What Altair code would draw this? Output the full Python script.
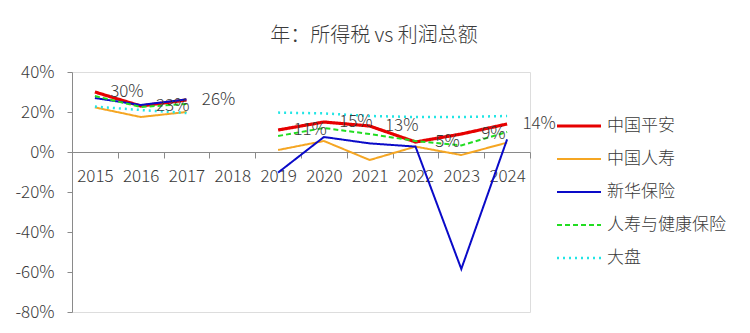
import altair as alt
import pandas as pd

years = ["2015", "2016", "2017", "2018", "2019", "2020", "2021", "2022", "2023", "2024"]
series = ["中国平安", "中国人寿", "新华保险", "人寿与健康保险", "大盘"]
pingan = [30, 23, 26, None, 11, 15, 13, 5, 9, 14]
chinalife = [22.3, 17.5, 20, None, 1, 5.5, -4, 2.7, -1.5, 4.7]
xinhua = [27, 23.5, 26.3, None, -10.3, 7.5, 4.3, 2.7, -58.5, 6.3]
lifehealth = [28, 22.5, 24, None, 8, 12, 9, 5.5, 3.3, 10]
market = [22.7, 21, 19.5, None, 19.7, 19.3, 18, 17.5, 17.5, 18]
values = [pingan, chinalife, xinhua, lifehealth, market]

colors = ["#E60000", "#F5A623", "#0A0AC8", "#22DD22", "#22E5E5"]
widths = [3.2, 2, 2, 2, 2.5]
dashes = [[1, 0], [1, 0], [1, 0], [5, 3], [2, 4]]

rows = []
for s, vals in zip(series, values):
    for y, v in zip(years, vals):
        if v is not None:
            rows.append({"series": s, "year": y, "v": v, "seg": "a" if y < "2018" else "b"})
df = pd.DataFrame(rows)

FONT = "Noto Sans CJK SC"
FW = 300
TXT = "#3A3A3A"
AX = "#8A8A8A"

xscale = alt.Scale(type="band", domain=years, paddingInner=0, paddingOuter=0)
yscale = alt.Scale(domain=[-80, 40], nice=False)

xaxis = alt.Axis(title=None, tickBand="extent", offset=-160, labelFontSize=17,
                 labelColor=TXT, labelFont=FONT, labelFontWeight=FW, domainColor=AX, tickColor=AX,
                 tickSize=6, labelPadding=10, grid=False, labelAngle=0)
yaxis = alt.Axis(title=None, values=[-80, -60, -40, -20, 0, 20, 40],
                 labelExpr="datum.value + '%'", labelFontSize=17, labelColor=TXT,
                 labelFont=FONT, labelFontWeight=FW, domainColor=AX, tickColor=AX, tickSize=5,
                 labelPadding=13, grid=False)

X = alt.X("year:N", scale=xscale, axis=xaxis, bandPosition=0.5)
Y = alt.Y("v:Q", scale=yscale, axis=yaxis)

layers = []
for i, s in enumerate(series):
    layers.append(alt.Chart(df[df.series == s]).mark_line(
        color=colors[i], strokeWidth=widths[i], strokeDash=dashes[i],
        strokeCap="butt", strokeJoin="miter"
    ).encode(x=X, y=Y, detail="seg:N"))

labels = alt.Chart(df[df.series == series[0]]).transform_calculate(
    lbl="format(datum.v, '.0f') + '%'"
).mark_text(fontSize=17, font=FONT, fontWeight=FW, color=TXT, dx=32, align="center", baseline="middle").encode(
    x=X, y=Y, text="lbl:N",
)
layers.append(labels)
main = alt.layer(*layers)

leg_df = pd.DataFrame({"series": series})
leg_y = alt.Y("series:N", scale=alt.Scale(type="point", domain=series, range=[54, 186], padding=0), axis=None)
leg_layers = []
for i, s in enumerate(series):
    leg_layers.append(alt.Chart(leg_df[leg_df.series == s]).mark_rule(
        color=colors[i], strokeWidth=widths[i], strokeDash=dashes[i], strokeCap="butt"
    ).encode(x=alt.value(485), x2=alt.value(529), y=leg_y))
leg_text = alt.Chart(leg_df).mark_text(fontSize=17, font=FONT, fontWeight=FW, color=TXT, align="left", baseline="middle").encode(
    x=alt.value(535), y=leg_y, text="series:N")
legend = alt.layer(*leg_layers, leg_text)

title = alt.Chart(pd.DataFrame({"t": ["年：所得税 vs 利润总额"]})).mark_text(
    fontSize=20, font=FONT, fontWeight=FW, color=TXT, align="center", baseline="middle"
).encode(x=alt.value(302), y=alt.value(-36), text="t:N")

chart = alt.layer(main, legend, title).resolve_scale(y="independent").properties(
    width=458, height=240, autosize="none",
    padding={"left": 72, "top": 72, "right": 220, "bottom": 21},
).configure_view(stroke=None).configure(background="white")

chart.save("out.html", embed_options={"renderer": "svg", "actions": False})
